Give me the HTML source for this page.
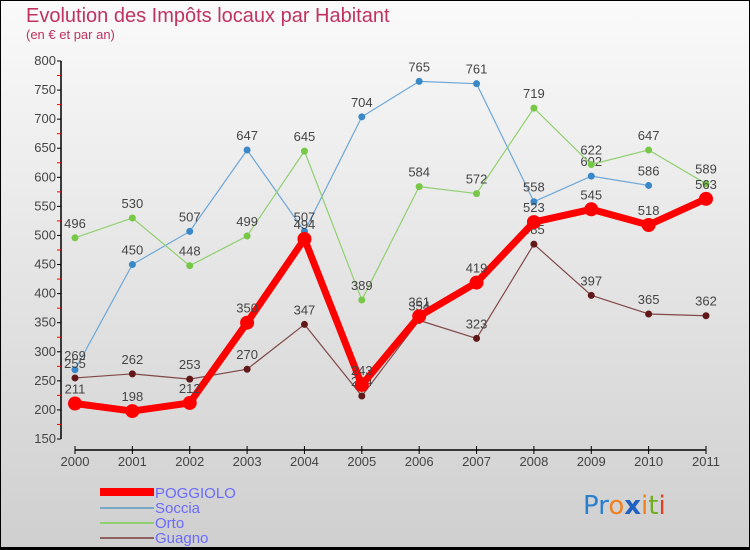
<!DOCTYPE html>
<html><head><meta charset="utf-8"><style>
body{margin:0}
#c{width:750px;height:550px;position:relative;overflow:hidden;font-family:"Liberation Sans",sans-serif}
</style></head><body>
<div id="c">
<svg id="s" width="750" height="550" xmlns="http://www.w3.org/2000/svg" font-family="Liberation Sans, sans-serif">
<defs><linearGradient id="bg" x1="0" y1="0" x2="0" y2="1"><stop offset="0" stop-color="#fafafa"/><stop offset="1" stop-color="#cfcfcf"/></linearGradient></defs>
<rect x="0.5" y="0.5" width="749" height="548" fill="url(#bg)" stroke="#000"/>
<rect x="0" y="547" width="750" height="3" fill="#000"/>
<text x="26" y="22" font-size="20" fill="#c0335e">Evolution des Impôts locaux par Habitant</text>
<text x="26" y="39" font-size="13" fill="#c0335e">(en € et par an)</text>
<g id="axes"></g><g id="series"></g>
<g>
<rect x="100" y="488" width="54" height="8" fill="#f00"/>
<text x="155" y="498" font-size="15" fill="#6a6aff">POGGIOLO</text>
<rect x="100" y="507" width="54" height="2" fill="#7aa8c8"/>
<text x="155" y="513" font-size="15" fill="#6a6aff">Soccia</text>
<rect x="100" y="522" width="54" height="2" fill="#90d070"/>
<text x="155" y="528" font-size="15" fill="#6a6aff">Orto</text>
<rect x="100" y="537" width="54" height="2" fill="#906060"/>
<text x="155" y="543" font-size="15" fill="#6a6aff">Guagno</text>
</g>
<text x="583" y="514" font-size="26" font-family="DejaVu Sans"><tspan fill="#2a7fd0">Pr</tspan><tspan fill="#f08020">o</tspan><tspan fill="#2060c0" font-weight="bold">x</tspan><tspan fill="#f08020">i</tspan><tspan fill="#70b020">t</tspan><tspan fill="#e04020">i</tspan></text>
</svg>
</div>
<script>
const years=["2000","2001","2002","2003","2004","2005","2006","2007","2008","2009","2010","2011"];
const yTicks=[150,200,250,300,350,400,450,500,550,600,650,700,750,800];
const poggiolo=[211,198,212,350,494,243,361,419,523,545,518,563];
const soccia=[269,450,507,647,507,704,765,761,558,602,586,null];
const orto=[496,530,448,499,645,389,584,572,719,622,647,589];
const guagno=[255,262,253,270,347,224,354,323,485,397,365,362];
const NS="http://www.w3.org/2000/svg";
function X(i){return 75+i*(706-75)/11;}
function Y(v){return 439-(v-150)*(378/650);}
function mk(t,a,p){const e=document.createElementNS(NS,t);for(const k in a)e.setAttribute(k,a[k]);p.appendChild(e);return e;}
const ax=document.getElementById('axes');
mk('line',{x1:61,y1:Y(800),x2:61,y2:Y(150),stroke:'#000','stroke-width':1.5},ax);
yTicks.forEach((v,i)=>{
  mk('line',{x1:57,y1:Y(v),x2:61,y2:Y(v),stroke:'#000'},ax);
  if(i<yTicks.length-1)mk('line',{x1:57,y1:Y(v+25),x2:61,y2:Y(v+25),stroke:'#f00'},ax);
  const t=mk('text',{x:56,y:Y(v)+4,'font-size':13,fill:'#444','text-anchor':'end'},ax);t.textContent=v;
  
  
});
mk('line',{x1:X(0),y1:450,x2:X(11),y2:450,stroke:'#000','stroke-width':1.5},ax);
years.forEach((y,i)=>{
  mk('line',{x1:X(i),y1:446,x2:X(i),y2:454,stroke:'#000'},ax);
  const t=mk('text',{x:X(i),y:466,'font-size':13,fill:'#444','text-anchor':'middle'},ax);t.textContent=y;
  
  
});
const sg=document.getElementById('series');
function draw(name,data,color,w,r,dot){
  const g=mk('g',{},sg);
  
  
  let d='';data.forEach((v,i)=>{if(v!=null)d+=(d?'L':'M')+X(i)+','+Y(v);});
  mk('path',{d:d,fill:'none',stroke:color,'stroke-width':w,'stroke-linejoin':'round'},g);
  data.forEach((v,i)=>{if(v==null)return;
    const c=mk('circle',{cx:X(i),cy:Y(v),r:r,fill:dot},g);
    
    
    const t=mk('text',{x:X(i),y:Y(v)-10,'font-size':13,fill:'#444','text-anchor':'middle'},g);t.textContent=v;
  });
}
draw('soccia',soccia,'#6ea8d8',1.2,3.5,'#3a88c8');
draw('orto',orto,'#90d070',1.2,3.5,'#78c848');
draw('guagno',guagno,'#804848',1.2,3.5,'#601818');
draw('poggiolo',poggiolo,'#f00',7,7,'#f00');
</script>
</body></html>
